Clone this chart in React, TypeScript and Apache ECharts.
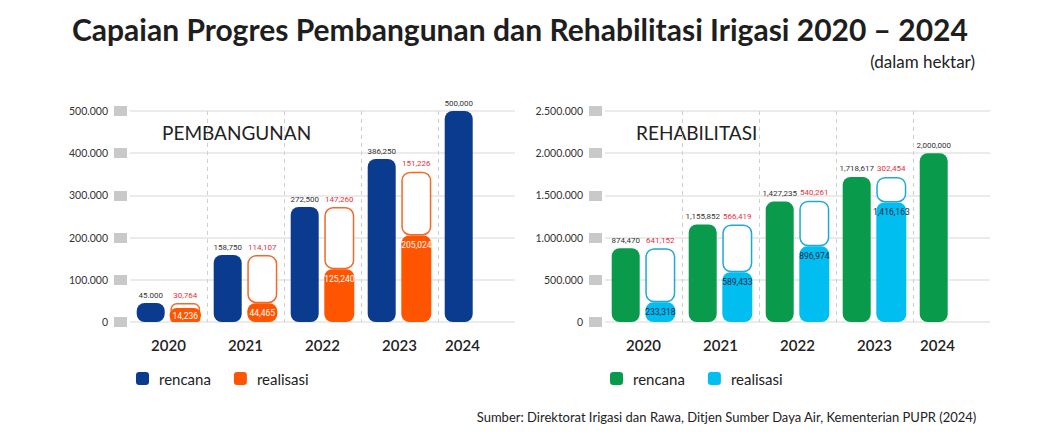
import React, { useEffect, useRef } from "react";
import * as echarts from "echarts";

const years = ["2020", "2021", "2022", "2023", "2024"];

const pembRencana = [45000, 158750, 272500, 386250, 500000];
const pembRencanaLabel = ["45.000", "158,750", "272,500", "386,250", "500,000"];
const pembRealisasi = [14236, 44465, 125240, 205024, null];
const pembSisa = [30764, 114107, 147260, 151226, null];

const rehabRencana = [874470, 1155852, 1427235, 1718617, 2000000];
const rehabRencanaLabel = ["874,470", "1,155,852", "1,427,235", "1,718,617", "2,000,000"];
const rehabRealisasi = [233318, 589433, 896974, 1416163, null];
const rehabSisa = [641152, 566419, 540261, 302454, null];

const pembMax = 500000;
const pembInterval = 100000;
const rehabMax = 2500000;
const rehabInterval = 500000;

const FONT = "Lato, 'Open Sans', sans-serif";
const NARROW = "Roboto, 'Liberation Sans', sans-serif";

const dotFmt = (v: number) => String(v).replace(/\B(?=(\d{3})+(?!\d))/g, ".");
const commaFmt = (v: number) => String(v).replace(/\B(?=(\d{3})+(?!\d))/g, ",");

function buildSeries(
  idx: number,
  rencana: number[],
  rencanaLabel: string[],
  realisasi: (number | null)[],
  sisa: (number | null)[],
  max: number,
  cPlan: string,
  cReal: string,
  cBorder: string,
  cInner: string
) {
  const radius = 8;
  return [
    {
      type: "bar",
      name: "rencana",
      xAxisIndex: idx,
      yAxisIndex: idx,
      barWidth: 28,
      barGap: "20%",
      data: rencana,
      itemStyle: { color: cPlan, borderRadius: radius },
      label: {
        show: true,
        position: "top",
        distance: 4,
        fontSize: 8,
        fontFamily: NARROW,
        color: "#333",
        formatter: (p: any) => rencanaLabel[p.dataIndex],
      },
    },
    {
      type: "bar",
      name: "realisasi",
      stack: "real" + idx,
      xAxisIndex: idx,
      yAxisIndex: idx,
      barWidth: 30,
      z: 3,
      data: realisasi.map((v) =>
        v == null
          ? null
          : v < max * 0.06
          ? {
              value: v,
              label: {
                position: "insideBottom",
                distance: 0,
                backgroundColor: cReal,
                borderRadius: 7,
                padding: [3, 3, 2, 3],
              },
            }
          : v
      ),
      itemStyle: { color: cReal, borderRadius: radius },
      label: {
        show: true,
        position: "insideTop",
        distance: 5,
        fontSize: 8.5,
        fontFamily: NARROW,
        color: cInner,
        formatter: (p: any) => commaFmt(p.value),
      },
    },
    {
      type: "bar",
      name: "sisa",
      stack: "real" + idx,
      xAxisIndex: idx,
      yAxisIndex: idx,
      barWidth: 30,
      data: sisa,
      itemStyle: {
        color: "#ffffff",
        borderColor: cBorder,
        borderWidth: 1.5,
        borderRadius: radius,
      },
      label: {
        show: true,
        position: "top",
        distance: 4,
        fontSize: 8,
        fontFamily: NARROW,
        color: "#e5303c",
        formatter: (p: any) => commaFmt(p.value),
      },
    },
  ];
}

function makeXAxis(gridIndex: number) {
  return {
    type: "category",
    gridIndex,
    data: years,
    axisLine: { show: false },
    axisTick: { show: false },
    splitLine: {
      show: true,
      interval: 0,
      showMinLine: false,
      showMaxLine: false,
      lineStyle: { color: "#cfcfcf", type: [4, 4], width: 1 },
    },
    axisLabel: {
      interval: 0,
      margin: 15,
      fontSize: 15,
      fontWeight: 600,
      fontFamily: FONT,
      color: "#222",
      formatter: (v: string, i: number) => (i === years.length - 1 ? "{last|" + v + "}" : "{n|" + v + "}"),
      rich: {
        n: { fontSize: 15, fontWeight: 600, fontFamily: FONT, color: "#222" },
        last: { fontSize: 15, fontWeight: 600, fontFamily: FONT, color: "#222", padding: [0, 28, 0, 0] },
      },
    },
  };
}

function makeYAxis(gridIndex: number, max: number, interval: number) {
  return {
    type: "value",
    gridIndex,
    min: 0,
    max,
    interval,
    offset: 3,
    axisLine: { show: false },
    axisTick: { show: true, length: 13, lineStyle: { color: "#c9c9c9", width: 10 } },
    splitLine: { show: true, lineStyle: { color: "#e4e4e4", width: 1.5 } },
    axisLabel: {
      margin: 19,
      fontSize: 10.5,
      fontFamily: FONT,
      color: "#333",
      formatter: (v: number) => dotFmt(v),
    },
  };
}

export default function App() {
  const ref = useRef<HTMLDivElement>(null);
  useEffect(() => {
    if (!ref.current) return;
    const chart = echarts.init(ref.current, undefined, { renderer: "svg" });
    const option: any = {
      animation: false,
      backgroundColor: "#ffffff",
      grid: [
        { left: 130, top: 111, width: 385, height: 211 },
        { left: 605, top: 111, width: 385, height: 211 },
      ],
      xAxis: [makeXAxis(0), makeXAxis(1)],
      yAxis: [makeYAxis(0, pembMax, pembInterval), makeYAxis(1, rehabMax, rehabInterval)],
      legend: [
        {
          left: 131,
          top: 366,
          icon: "roundRect",
          itemWidth: 13,
          itemHeight: 13,
          itemGap: 23,
          selectedMode: false,
          textStyle: { fontSize: 15, fontFamily: FONT, color: "#222", padding: [0, 0, 0, 5] },
          data: [
            { name: "rencana", itemStyle: { color: "#0a3b8f" } },
            { name: "realisasi", itemStyle: { color: "#ff5500" } },
          ],
        },
        {
          left: 605,
          top: 366,
          icon: "roundRect",
          itemWidth: 13,
          itemHeight: 13,
          itemGap: 23,
          selectedMode: false,
          textStyle: { fontSize: 15, fontFamily: FONT, color: "#222", padding: [0, 0, 0, 5] },
          data: [
            { name: "rencana", itemStyle: { color: "#0a9a4c" } },
            { name: "realisasi", itemStyle: { color: "#00bff0" } },
          ],
        },
      ],
      graphic: [
        {
          type: "text",
          left: 72,
          top: 14,
          style: {
            text: "Capaian Progres Pembangunan dan Rehabilitasi Irigasi 2020 – 2024",
            font: "bold 30px " + FONT,
            fill: "#1e1e1e",
          },
        },
        {
          type: "text",
          right: 73,
          top: 53,
          style: { text: "(dalam hektar)", font: "17px " + FONT, fill: "#222" },
        },
        {
          type: "text",
          left: 162,
          top: 123,
          style: { text: "PEMBANGUNAN", font: "19px " + FONT, fill: "#222" },
        },
        {
          type: "text",
          left: 636,
          top: 123,
          style: { text: "REHABILITASI", font: "19px " + FONT, fill: "#222" },
        },
        {
          type: "text",
          right: 71,
          top: 410,
          style: {
            text: "Sumber: Direktorat Irigasi dan Rawa, Ditjen Sumber Daya Air, Kementerian PUPR (2024)",
            font: "13px " + FONT,
            fill: "#222",
          },
        },
      ],
      series: [
        ...buildSeries(0, pembRencana, pembRencanaLabel, pembRealisasi, pembSisa, pembMax, "#0a3b8f", "#ff5500", "#f06a2a", "#ffffff"),
        ...buildSeries(1, rehabRencana, rehabRencanaLabel, rehabRealisasi, rehabSisa, rehabMax, "#0a9a4c", "#00bff0", "#1ea9d6", "#13294b"),
      ],
    };
    chart.setOption(option);
    return () => chart.dispose();
  }, []);
  return (
    <div
      ref={ref}
      style={{ position: "fixed", left: 0, top: 0, width: 1048, height: 444, background: "#fff" }}
    />
  );
}
